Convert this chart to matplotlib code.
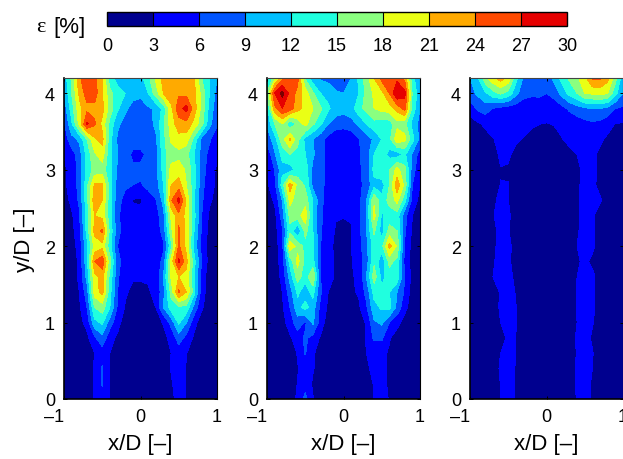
import numpy as np
import matplotlib
matplotlib.use("Agg")
import matplotlib.pyplot as plt
from matplotlib.colors import ListedColormap, BoundaryNorm
from matplotlib.cm import ScalarMappable

plt.rcParams['font.family'] = ['Liberation Sans', 'DejaVu Sans']

# сетка измерений
x_pos = [-1.0, -0.9, -0.8, -0.7, -0.6, -0.5, -0.4, -0.3, -0.2, -0.1, 0.0,
         0.1, 0.2, 0.3, 0.4, 0.5, 0.6, 0.7, 0.8, 0.9, 1.0]
y_pos = [4.2, 4.0, 3.8, 3.6, 3.4, 3.2, 3.0, 2.8, 2.6, 2.4, 2.2,
         2.0, 1.8, 1.6, 1.4, 1.2, 1.0, 0.8, 0.6, 0.4, 0.2, 0.0]

levels = [0, 3, 6, 9, 12, 15, 18, 21, 24, 27, 30]
colors = ['#00008F', '#0000FF', '#0055FF', '#00BFFF', '#20FFDF',
          '#8AFF80', '#EAFF15', '#FFAA00', '#FF4A00', '#E60000']
over_color = '#7A0000'

# строки сверху вниз (y = 4.2 ... 0)
eps_left = [
    [10, 15.5, 23.5, 26, 25, 21, 13, 11, 10.5, 10, 11, 14, 18.5, 22, 23, 23, 23, 21, 15, 12, 9],
    [9, 15, 21.5, 25.5, 25.5, 21, 16, 13, 12, 10, 9.5, 12, 16.5, 21, 23, 23.5, 23, 22, 17, 12, 8],
    [7, 13.5, 20, 23, 23, 22, 16.5, 12.5, 9.5, 8, 8, 8.5, 9.5, 13, 20, 26, 28, 22.5, 17, 11, 7],
    [5.5, 11.5, 19, 27.5, 24.5, 20, 14, 9.5, 8, 7.5, 7.5, 8, 9.5, 14.5, 19.5, 22.5, 23, 20, 16, 10, 6.5],
    [4, 8, 9.5, 15, 20.5, 22, 13, 8.5, 7, 7, 7, 7, 8.5, 14, 18.5, 20, 19.5, 14, 8, 6.5, 4],
    [3, 4.5, 7.5, 13, 17.5, 19.5, 12.5, 9, 7, 5.5, 5.5, 6.5, 7, 14, 16.5, 17, 16, 12, 8, 5, 3.5],
    [2.5, 4, 7, 13, 16, 16.5, 13, 8.5, 7, 6.5, 6.5, 6.5, 8, 13, 19, 19.5, 17.5, 13, 7.5, 4.5, 2.5],
    [2.5, 4, 7, 14, 21.5, 21.5, 13.5, 7.5, 6.5, 6, 5.8, 6.5, 7.5, 12, 21, 22.5, 18, 13, 7, 4, 2.5],
    [1.5, 3.8, 6.5, 14, 23, 21, 13, 7, 5, 2.8, 2.5, 5, 5.8, 10, 23.5, 28, 20.5, 12, 6.5, 3.5, 2],
    [1.5, 2.5, 5.5, 13, 21, 20, 13, 6.5, 4.5, 4, 4, 4, 4.5, 8, 18.5, 23, 20, 13, 6, 2.5, 1],
    [1, 2, 5, 13, 22, 24.5, 14, 7, 4.5, 4, 4, 4, 4.5, 7, 17, 24.5, 20, 12, 5.5, 2, 1],
    [1, 1.8, 4, 11, 19, 20, 13, 6, 4, 3.8, 3.8, 3.8, 4, 5.5, 14, 24.5, 20, 11, 5, 1.8, 1],
    [1, 1.5, 3.5, 11, 24, 26, 16, 7, 4.5, 3.5, 3.5, 3.5, 4, 7, 19, 27.5, 22, 13, 6, 1.8, 1],
    [0.8, 1.5, 3.5, 10, 20, 22, 14, 6.5, 3.5, 3.2, 3.2, 3.2, 3.5, 9, 18.5, 21, 20, 12.5, 4.5, 1.5, 0.8],
    [0.8, 1.2, 3, 7.5, 19.5, 22, 13, 6, 3.3, 2.5, 2.5, 2.8, 3.5, 8, 16, 24.5, 21, 13, 4.5, 1.2, 0.8],
    [0.7, 1.1, 2.5, 6, 15, 16.5, 12, 5.5, 2.8, 1.5, 1.2, 1.5, 3, 9, 13.5, 14.5, 14, 8, 3.5, 1, 0.7],
    [0.6, 1, 2, 4, 11, 12.5, 7.5, 4, 1.5, 1, 1, 1, 2, 3.2, 7, 12.5, 9, 4, 1.5, 0.8, 0.6],
    [0.5, 0.8, 1.2, 2.2, 5.5, 8, 4, 2.5, 1, 0.8, 0.8, 0.8, 1, 2.2, 3.8, 7.5, 5, 2.5, 1, 0.7, 0.5],
    [0.5, 0.7, 1, 1.5, 3, 4.5, 3, 2, 0.9, 0.7, 0.7, 0.7, 0.9, 1.5, 3, 4.2, 3.1, 1.5, 0.9, 0.6, 0.5],
    [0.5, 0.7, 0.9, 1.4, 3.3, 6.3, 3, 1.6, 0.9, 0.7, 0.7, 0.7, 0.9, 1.5, 3.2, 4.5, 2.8, 1.3, 0.8, 0.6, 0.5],
    [0.5, 0.7, 0.9, 1.4, 3.2, 6.3, 3, 1.5, 0.9, 0.7, 0.7, 0.7, 0.8, 1.4, 2.6, 4.5, 2.9, 1.3, 0.8, 0.6, 0.5],
    [0.5, 0.7, 0.9, 1.4, 3.2, 4.5, 2.8, 1.4, 0.8, 0.7, 0.7, 0.7, 0.8, 1.3, 2.4, 3.8, 2.9, 1.3, 0.8, 0.6, 0.5],
]

eps_mid = [
    [9.5, 17, 23, 26, 25, 14.5, 10, 8.5, 8, 8, 8, 9, 12.5, 16.5, 21, 25, 26, 26, 23, 13, 9],
    [15, 27, 31, 26, 23, 19.5, 15.5, 12, 11, 9.2, 9, 10, 12, 16, 18.5, 20, 24, 30, 28, 14.5, 10],
    [11, 23, 27, 25.5, 22, 20, 18, 15.5, 12.5, 10.5, 10, 10.5, 14, 16, 18, 19, 19.5, 22, 25, 14, 9],
    [9.5, 15, 18, 12, 16, 19, 15.5, 12.5, 9, 7.5, 7.2, 8, 9.5, 12, 14, 13.5, 13.5, 17, 16, 11, 8],
    [7, 10.5, 17, 21.5, 16, 11, 9, 7, 5, 3.5, 3.5, 3.5, 5.8, 7.5, 9.5, 12, 14, 20, 19, 13, 8],
    [3.5, 8.5, 13, 15, 14, 12, 9.5, 7, 5, 3.5, 3.5, 3.5, 5.6, 7.5, 12, 13.5, 11, 10.5, 12.5, 8.5, 4.5],
    [3, 6, 11, 10.5, 13, 14, 8, 7, 5, 3.4, 3.4, 3.4, 5.5, 7, 13, 14.5, 15, 19, 16, 7.5, 3.5],
    [2.5, 5, 13.5, 22.5, 17, 14.5, 8, 7, 4.8, 3.3, 3.3, 3.3, 5.2, 7, 11, 10.5, 15, 23, 17, 6, 3],
    [1.5, 3.5, 9, 19, 16, 16.5, 12, 6.8, 4.5, 3.2, 3.2, 3.2, 5, 9, 17.5, 13, 16, 19, 13, 5, 2],
    [1, 2, 7.5, 16, 16.5, 20, 11, 6.5, 4.5, 3.2, 3.1, 3.2, 5, 9, 19, 11.5, 13.5, 13.5, 7, 3, 1.5],
    [1, 1.8, 5.5, 14, 9, 16, 12, 6.3, 4.3, 2.7, 2.5, 2.8, 5, 9, 15.5, 10.5, 16, 15, 6.5, 2.5, 1],
    [1, 1.5, 4.8, 20, 17, 14, 13, 6, 4, 2.3, 2.2, 2.8, 4.8, 8, 13.5, 14, 22, 17.5, 5.5, 2, 1],
    [0.8, 1.3, 4.5, 13, 19, 14, 13, 6, 4, 2.6, 1.2, 2.8, 4.5, 7.5, 14.5, 9.5, 16, 14, 5, 1.8, 0.8],
    [0.7, 1.2, 3.8, 10, 16.5, 13, 18, 6, 3.3, 2.9, 1.5, 2.7, 3.5, 9, 16.5, 11, 13.5, 14, 6, 2, 0.7],
    [0.6, 1, 3, 7.5, 12.5, 10.5, 13, 6.5, 3, 2, 1.2, 2.6, 3.3, 7, 13, 12.5, 12, 9, 5.5, 1.5, 0.7],
    [0.6, 0.9, 2.5, 6, 11, 13, 10.5, 5, 2.5, 1, 0.9, 1.2, 2.5, 5.5, 11, 12.5, 13, 8, 4, 1.2, 0.7],
    [0.5, 0.8, 1.8, 4.5, 7.5, 5.5, 9.5, 4.5, 1.5, 0.8, 0.8, 0.9, 2, 3.2, 8.5, 9.5, 6, 4, 1.8, 0.8, 0.5],
    [0.5, 0.7, 1.2, 2.5, 4.5, 6.5, 5, 2.6, 1, 0.8, 0.7, 0.7, 1, 3.3, 6.5, 6.5, 3.3, 1.5, 1, 0.6, 0.5],
    [0.5, 0.7, 1, 1.5, 3.2, 6.2, 3.3, 2, 0.9, 0.7, 0.7, 0.7, 0.9, 3, 4, 4, 2.5, 1.3, 0.9, 0.6, 0.5],
    [0.5, 0.7, 0.9, 1.4, 2.8, 4.5, 3.2, 1.8, 0.9, 0.7, 0.7, 0.7, 0.9, 2.6, 3.6, 3.8, 2.5, 1.2, 0.8, 0.6, 0.5],
    [0.5, 0.7, 0.9, 1.4, 3.1, 4.5, 2.7, 1.6, 0.8, 0.7, 0.7, 0.7, 0.8, 1.8, 3.2, 3.7, 2.6, 1.2, 0.8, 0.6, 0.5],
    [0.5, 0.7, 0.9, 1.5, 3.5, 7, 3.1, 1.6, 0.8, 0.7, 0.7, 0.7, 0.8, 1.8, 3.2, 4.5, 2.7, 1.2, 0.8, 0.6, 0.5],
]

eps_right = [
    [9, 11.5, 17, 20, 22.5, 20, 13, 8.5, 7.5, 7, 7, 10, 13, 15.5, 17.5, 20, 24.5, 24.5, 22, 16, 10],
    [8, 9.5, 11.5, 14, 15.5, 14, 10, 7, 6.5, 6.5, 6, 7, 10, 13, 15, 18, 18.5, 19, 18, 13, 9],
    [4, 6.5, 7.5, 5.8, 5, 4.5, 4.3, 4.3, 4.3, 4.5, 4.3, 4.3, 5, 6.5, 7.5, 8.5, 9, 9, 8, 6, 5.5],
    [2, 2.6, 3.5, 4, 4, 3.8, 3.8, 3.6, 3.4, 3.05, 2.9, 3.1, 3.6, 4, 4.5, 5, 5.5, 5, 4, 2.9, 2.8],
    [1.2, 1.6, 2, 2.9, 3.5, 3.6, 3.3, 2.9, 2.2, 2, 2, 2.3, 2.9, 3.6, 3.8, 3.8, 3.7, 3.4, 2.5, 1.8, 1.5],
    [1, 1.2, 1.5, 2.1, 3.4, 3.3, 2.4, 2, 1.7, 1.5, 1.5, 1.6, 1.9, 2.4, 3, 3.4, 3.4, 2.6, 2, 1.4, 1.2],
    [1, 1.1, 1.3, 1.8, 2.9, 2.8, 1.9, 1.5, 1.3, 1.2, 1.2, 1.3, 1.5, 1.9, 2.6, 3.4, 3.4, 2.7, 1.8, 1.3, 1.1],
    [0.9, 1, 1.3, 2, 3.05, 3.05, 1.9, 1.3, 1.1, 1, 1, 1.1, 1.3, 1.9, 2.7, 3.5, 3.4, 2.5, 1.7, 1.2, 1],
    [0.9, 1, 1.4, 2.5, 3.6, 3, 1.9, 1.2, 1.1, 1, 1, 1.1, 1.3, 1.9, 2.7, 3.5, 3.6, 3.2, 2.2, 1.2, 1],
    [0.9, 1, 1.5, 2.9, 3.6, 3.3, 2.2, 1.2, 1, 1, 1, 1, 1.3, 2, 2.8, 3.6, 3.2, 2.3, 1.5, 1.1, 0.9],
    [0.9, 1, 1.4, 2.5, 3.5, 3.1, 2.1, 1.2, 1, 1, 1, 1, 1.3, 2, 2.8, 3.6, 3.2, 2.3, 1.5, 1.1, 0.9],
    [0.9, 1, 1.4, 2.6, 3.6, 3.4, 2.4, 1.3, 1, 1, 1, 1, 1.3, 2.1, 3, 3.6, 3.3, 2.4, 1.5, 1.1, 0.9],
    [0.9, 1, 1.5, 2.8, 3.6, 3.3, 2.3, 1.3, 1, 1, 1, 1, 1.3, 2, 2.8, 3.3, 2.7, 1.9, 1.3, 1, 0.9],
    [0.9, 1, 1.6, 3, 3.7, 3.4, 2.7, 1.4, 1, 1, 1, 1, 1.3, 2.1, 3, 3.6, 3.3, 2.4, 1.4, 1, 0.9],
    [0.8, 1, 1.3, 2, 3.2, 3.6, 2.9, 1.5, 1, 0.9, 0.9, 1, 1.3, 2.2, 3.1, 3.7, 3.3, 2.4, 1.4, 1, 0.8],
    [0.8, 1, 1.3, 2, 3.3, 3.6, 3.05, 1.6, 1, 0.9, 0.9, 1, 1.3, 2.2, 3.1, 3.7, 3.3, 2.4, 1.4, 1, 0.8],
    [0.8, 0.9, 1.2, 1.9, 3, 3.6, 3.05, 1.6, 1, 0.9, 0.9, 1, 1.3, 2.2, 3, 3.6, 3.1, 2.2, 1.3, 1, 0.8],
    [0.8, 0.9, 1.1, 1.5, 2.3, 3.3, 3, 1.7, 1, 0.9, 0.9, 1, 1.4, 2.3, 3.2, 3.5, 2.8, 1.9, 1.2, 0.9, 0.8],
    [0.8, 0.9, 1.1, 1.7, 3, 3.6, 3, 1.7, 1, 0.9, 0.9, 1, 1.3, 2.2, 3.1, 3.6, 3.1, 2, 1.2, 0.9, 0.8],
    [0.8, 0.9, 1.2, 1.9, 3.3, 3.6, 2.9, 1.6, 1, 0.9, 0.9, 1, 1.4, 2.3, 3.2, 3.7, 3, 1.9, 1.2, 0.9, 0.8],
    [0.8, 0.9, 1.1, 1.7, 3.05, 3.6, 2.9, 1.6, 1, 0.9, 0.9, 1, 1.4, 2.3, 3.2, 3.6, 2.8, 1.8, 1.1, 0.9, 0.8],
    [0.8, 0.9, 1.1, 1.7, 3, 3.6, 2.9, 1.5, 1, 0.9, 0.9, 1, 1.3, 2.2, 3.1, 3.6, 2.8, 1.8, 1.1, 0.9, 0.8],
]

W, H = 623, 460
cmap = ListedColormap(colors)
cmap.set_over(over_color)
norm = BoundaryNorm(levels, cmap.N)

fig = plt.figure(figsize=(W/100, H/100), dpi=100)

lefts = [64, 267, 470]
panels = [eps_left, eps_mid, eps_right]
for i in range(3):
    ax = fig.add_axes([lefts[i]/W, (H-400)/H, 153/W, 321/H])
    ax.contourf(x_pos, y_pos, np.array(panels[i]), levels=levels, cmap=cmap, norm=norm, extend='max')
    ax.set_xlim(-1, 1)
    ax.set_ylim(0, 4.2)
    ax.set_xticks([-1, 0, 1])
    ax.set_xticklabels(['\u20131', '0', '1'])
    ax.get_xticklabels()[0].set_ha('right')
    ax.set_yticks([0, 1, 2, 3, 4])
    ax.tick_params(direction='in', top=True, right=True, length=2.5, width=0.7, labelsize=13, pad=6.5)
    for s in ['left', 'bottom']:
        ax.spines[s].set_linewidth(1.2)
    for s in ['top', 'right']:
        ax.spines[s].set_linewidth(0.8)
    ax.spines['top'].set_color('#444444')
    ax.set_xlabel('x/D [\u2013]', fontsize=16, labelpad=6)
    if i == 0:
        ax.set_ylabel('y/D [\u2013]', fontsize=16, labelpad=7)

# цветовая шкала сверху
cax = fig.add_axes([107/W, (H-27)/H, 460/W, 14.5/H])
cb = fig.colorbar(ScalarMappable(norm=norm, cmap=cmap), cax=cax, orientation='horizontal',
                  ticks=levels, drawedges=True, extend='neither')
cb.ax.tick_params(length=0, labelsize=13, pad=8)
cb.outline.set_linewidth(1)
cb.dividers.set_color('black')
cb.dividers.set_linewidth(0.8)

fig.text(36/W, (H-27)/H, '\u03b5', fontsize=16, family=['Liberation Serif', 'DejaVu Serif'], va='center')
fig.text(53/W, (H-27)/H, '[%]', fontsize=16, va='center')

fig.savefig('out.png', dpi=100)
